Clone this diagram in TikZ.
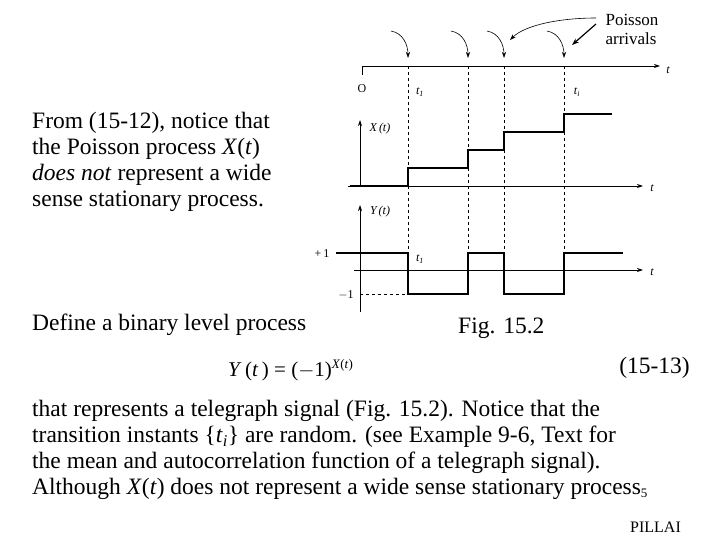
\documentclass[tikz,border=0pt]{standalone}
\usepackage{fontspec}
\setmainfont{Liberation Serif}
\usetikzlibrary{arrows.meta}
\begin{document}
\begin{tikzpicture}[x=1pt,y=-1pt,
  txt/.style={anchor=west,inner sep=0,font=\fontsize{23.5}{26}\selectfont,align=left},
  sm/.style={inner sep=0,font=\fontsize{12}{13}\selectfont},
  ax/.style={line width=0.9pt,-{Stealth[length=6pt,width=4pt]}},
  sig/.style={line width=2.4pt},
  dsh/.style={dashed,line width=0.5pt},
  carr/.style={line width=0.6pt,-{Stealth[length=6pt,width=4pt]}}]
\useasboundingbox (0,0) rectangle (720,540);
% top axis
\draw[line width=0.9pt] (362,75) -- (362,66);
\draw[ax] (362,66) -- (660,66);
\node[sm] at (668,70) {\itshape t};
\node[sm] at (362,89) {O};
\node[sm] at (420,92) {\itshape t\textsubscript{1}};
\node[sm] at (577,92) {\itshape t\textsubscript{i}};
% arrivals dashed
\foreach \x/\b in {408/294,468/294,504/294,564/294}{\draw[dsh] (\x,66) -- (\x,\b);}
% curved arrows
\foreach \x in {408,468,504,564}{\draw[carr] (\x-17,31) .. controls (\x-5,33) and (\x,45) .. (\x,58);}
\node[sm,font=\fontsize{17}{19}\selectfont,align=left] (pa) at (632,29) {Poisson\\arrivals};
\draw[carr] (596,18) .. controls (560,18) and (525,25) .. (510,40);
\draw[line width=1.2pt,-{Stealth[length=7pt,width=5pt]}] (596,24) -- (572,45);
% X(t)
\draw[ax] (360,186) -- (360,120);
\draw[ax] (348,186) -- (643,186);
\node[sm] at (652,188) {\itshape t};
\node[sm] at (380,129) {\itshape X\,(t)};
\draw[sig] (350,186) -- (408,186) -- (408,168) -- (468,168) -- (468,150) -- (504,150) -- (504,132) -- (564,132) -- (564,114) -- (612,114);
% Y(t)
\draw[ax] (360,312) -- (360,205);
\draw[ax] (354,270) -- (643,270);
\node[sm] at (652,272) {\itshape t};
\node[sm] at (380,212) {\itshape Y\,(t)};
\node[sm] at (322,254) {+\,1};
\node[sm] at (346,295) {$-$1};
\node[sm] at (420,259) {\itshape t\textsubscript{1}};
\draw[dsh] (360,294) -- (408,294);
\draw[sig] (336,253) -- (408,253) -- (408,294) -- (468,294) -- (468,253) -- (504,253) -- (504,294) -- (564,294) -- (564,253) -- (623,253);
% texts
\node[txt] at (32,162) {From (15-12), notice that\\the Poisson process \textit{X}(\textit{t})\\\textit{does not} represent a wide\\sense stationary process.};
\node[txt] at (32,325) {Define a binary level process};
\node[txt] at (458,328) {Fig. 15.2};
\node[txt,font=\fontsize{21}{24}\selectfont] at (228,370) {\textit{Y}\,(\textit{t}\,) = ($-$1)\raisebox{8pt}{\fontsize{13}{13}\selectfont\textit{X}(\textit{t})}};
\node[txt,anchor=east] at (690,368) {(15-13)};
\node[txt] at (32,450) {that represents a telegraph signal (Fig. 15.2). Notice that the\\transition instants \{\textit{t}\textsubscript{\textit{i}}\} are random. (see Example 9-6, Text for\\the mean and autocorrelation function of a telegraph signal).\\Although \textit{X}(\textit{t}) does not represent a wide sense stationary process\raisebox{-3pt}{\fontsize{13}{13}\selectfont 5}};
\node[txt,font=\fontsize{16}{17}\selectfont] at (630,527) {PILLAI};
\end{tikzpicture}
\end{document}
